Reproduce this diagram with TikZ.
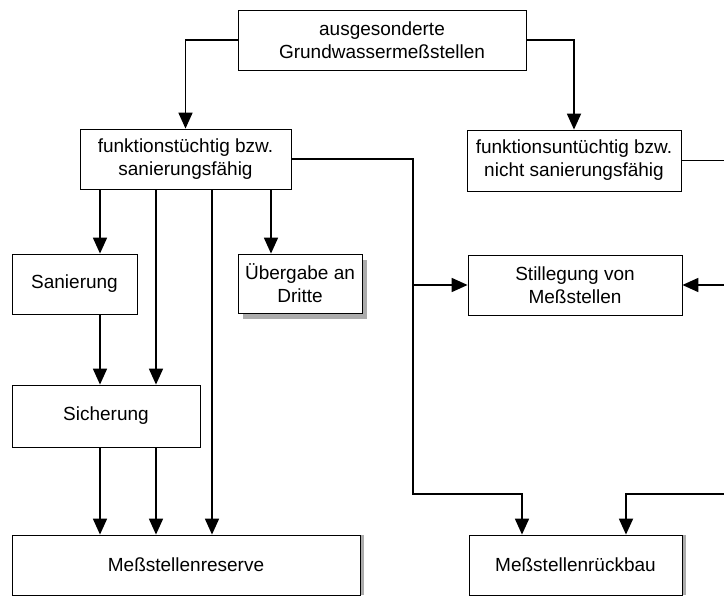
\documentclass[tikz,border=0pt]{standalone}
\usepackage{fontspec}
\setmainfont{Liberation Sans}
\usetikzlibrary{arrows.meta,shadows}
\begin{document}
\begin{tikzpicture}[x=1pt,y=-1pt]
\tikzstyle{every node}+=[inner sep=0pt]
\tikzstyle{box}=[draw=black, line width=0.8pt, fill=white, align=center, font=\fontsize{19}{23}\selectfont]
\tikzstyle{shd}=[drop shadow={shadow xshift=5pt, shadow yshift=-6pt, fill=gray!65, opacity=1}]
\tikzstyle{rshd}=[drop shadow={shadow xshift=4pt, shadow yshift=0pt, fill=gray!65, opacity=1}]
\tikzstyle{lin}=[line width=1.8pt]
\tikzstyle{arr}=[lin, -{Triangle[length=16pt,width=14pt]}]
\useasboundingbox (0,0) rectangle (724,597);
\fill [white] (0,0) rectangle (724,597);
\node [box, minimum width=288pt, minimum height=60pt] (top) at (382,40) {ausgesonderte\\Grundwassermeßstellen};
\node [box, minimum width=211pt, minimum height=60pt] (ftk) at (185.5,159) {funktionstüchtig bzw.\\sanierungsfähig};
\node [box, minimum width=214pt, minimum height=61pt] (fku) at (574,160.5) {funktionsuntüchtig bzw.\\nicht sanierungsfähig};
\node [box, minimum width=125pt, minimum height=60pt] (san) at (74.5,284) {Sanierung};
\node [box, shd, minimum width=124pt, minimum height=59pt] (ueb) at (300,283.5) {Übergabe an\\Dritte};
\node [box, minimum width=214pt, minimum height=60pt] (still) at (575,285) {Stillegung von\\Meßstellen};
\node [box, minimum width=188pt, minimum height=62pt] (sich) at (106,416) {Sicherung};
\node [box, rshd, minimum width=348pt, minimum height=60pt] (res) at (186,565) {Meßstellenreserve};
\node [box, rshd, minimum width=213pt, minimum height=60pt] (rueck) at (575.5,565) {Meßstellenrückbau};
\coordinate (xa) at (100,0);
\coordinate (xb) at (156,0);
\coordinate (xc) at (212,0);
\coordinate (xd) at (271,0);
\coordinate (xf) at (522,0);
\coordinate (xg) at (626,0);
\coordinate (lb) at (413,494);
\coordinate (rb) at (728,494);
\draw [arr] (top.west) -| (ftk.north);
\draw [arr] (top.east) -| (fku.north);
\draw [arr] (ftk.south -| xa) -- (san.north -| xa);
\draw [arr] (ftk.south -| xb) -- (sich.north -| xb);
\draw [arr] (ftk.south -| xc) -- (res.north -| xc);
\draw [arr] (ftk.south -| xd) -- (ueb.north -| xd);
\draw [arr] (san.south -| xa) -- (sich.north -| xa);
\draw [arr] (sich.south -| xa) -- (res.north -| xa);
\draw [arr] (sich.south -| xb) -- (res.north -| xb);
\draw [arr] (ftk.east) -| (lb) -| (rueck.north -| xf);
\draw [arr] (still.west -| lb) -- (still.west);
\draw [lin] (fku.east) -| (rb);
\draw [arr] (rb) -| (rueck.north -| xg);
\draw [arr] (still.east -| rb) -- (still.east);
\end{tikzpicture}
\end{document}
